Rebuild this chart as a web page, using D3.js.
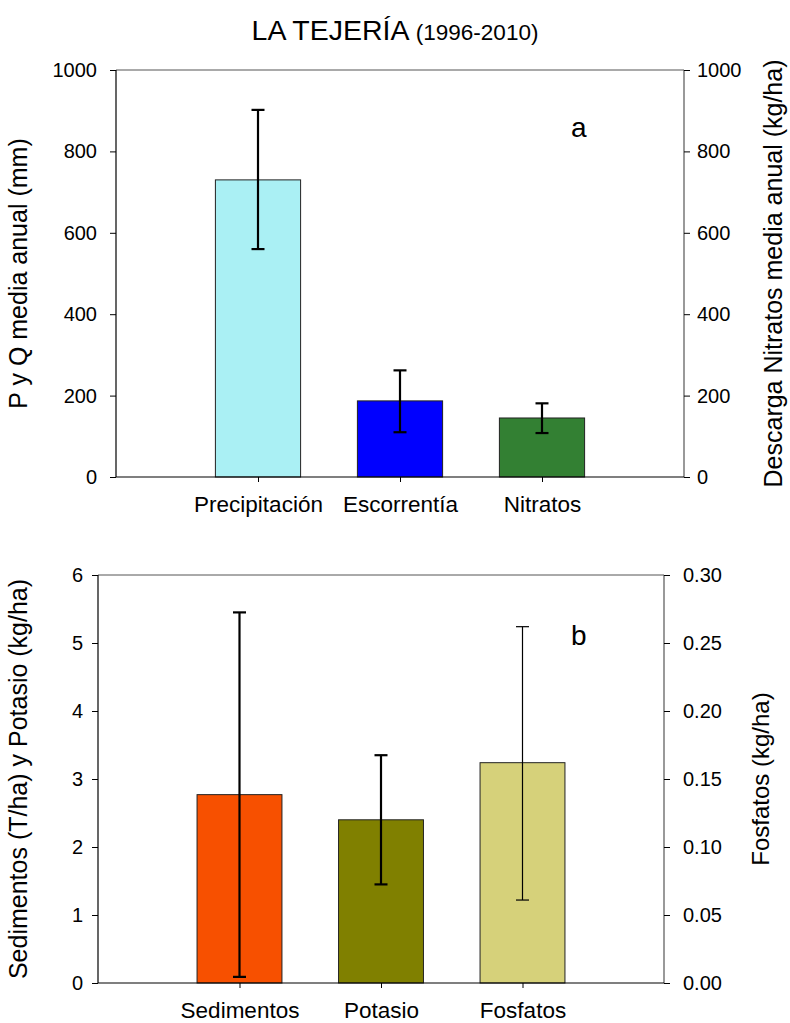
<!DOCTYPE html>
<html><head><meta charset="utf-8">
<script src="https://cdn.jsdelivr.net/npm/d3@7"></script>
<style>body{margin:0;background:#fff}svg{font-family:"Liberation Sans",Arial,sans-serif}</style>
</head><body><svg id="c" width="790" height="1023"></svg>
<script>
const catsA = ["Precipitación","Escorrentía","Nitratos"];
const valsA = [730, 187, 145];
const errHiA = [902, 262, 181];
const errLoA = [560, 110, 108];
const colorsA = ["#aaf0f4","#0000ff","#338033"];
const ticksA = [0,200,400,600,800,1000];

const catsB = ["Sedimentos","Potasio","Fosfatos"];
const valsB = [2.77, 2.40, 0.162];
const errHiB = [5.45, 3.35, 0.262];
const errLoB = [0.09, 1.45, 0.061];
const axisB = ["left","left","right"];
const colorsB = ["#f75000","#808000","#d6d17a"];
const ticksBL = [0,1,2,3,4,5,6];
const ticksBR = [0,0.05,0.10,0.15,0.20,0.25,0.30];

const svg = d3.select("#c");
const FS = 20;

svg.append("text").attr("x",395).attr("y",40).attr("text-anchor","middle")
  .attr("font-size",28.5).attr("fill","#000")
  .call(t=>{t.append("tspan").text("LA TEJERÍA ");t.append("tspan").attr("font-size",22.5).text("(1996-2010)");});

function panel(cfg){
  const g = svg.append("g");
  const x = d3.scaleLinear().domain([0,4]).range([cfg.x0,cfg.x1]);
  const yL = d3.scaleLinear().domain(cfg.domL).range([cfg.yb,cfg.yt]);
  const yR = d3.scaleLinear().domain(cfg.domR).range([cfg.yb,cfg.yt]);
  const bw = (cfg.x1-cfg.x0)/4*0.6;
  g.append("line").attr("x1",cfg.x0).attr("x2",cfg.x1).attr("y1",cfg.yt).attr("y2",cfg.yt).attr("stroke","#555").attr("stroke-width",1);
  const data = cfg.cats.map((c,i)=>({c,i,v:cfg.vals[i],hi:cfg.hi[i],lo:cfg.lo[i],col:cfg.colors[i],ax:cfg.axes[i]}));
  const ys = d=> d.ax==="right"?yR:yL;
  g.selectAll("rect.bar").data(data).join("rect")
    .attr("x",d=>x(d.i+1)-bw/2).attr("width",bw)
    .attr("y",d=>ys(d)(d.v)).attr("height",d=>cfg.yb-ys(d)(d.v))
    .attr("fill",d=>d.col).attr("stroke","#222").attr("stroke-width",1);
  const eb = g.selectAll("g.eb").data(data).join("g").attr("stroke","#000")
    .attr("stroke-width",d=>d.ax==="right"?1.2:2.2);
  eb.append("line").attr("x1",d=>x(d.i+1)).attr("x2",d=>x(d.i+1)).attr("y1",d=>ys(d)(d.hi)).attr("y2",d=>ys(d)(d.lo));
  eb.append("line").attr("x1",d=>x(d.i+1)-6.5).attr("x2",d=>x(d.i+1)+6.5).attr("y1",d=>ys(d)(d.hi)).attr("y2",d=>ys(d)(d.hi));
  eb.append("line").attr("x1",d=>x(d.i+1)-6.5).attr("x2",d=>x(d.i+1)+6.5).attr("y1",d=>ys(d)(d.lo)).attr("y2",d=>ys(d)(d.lo));
  const ax = g.append("g").attr("transform",`translate(${cfg.x0},0)`)
    .call(d3.axisLeft(yL).tickValues(cfg.ticksL).tickSize(6).tickPadding(cfg.padL).tickFormat(cfg.fmtL));
  const axr = g.append("g").attr("transform",`translate(${cfg.x1},0)`)
    .call(d3.axisRight(yR).tickValues(cfg.ticksR).tickSize(6).tickPadding(cfg.padR).tickFormat(cfg.fmtR));
  const axb = g.append("g").attr("transform",`translate(0,${cfg.yb})`)
    .call(d3.axisBottom(x).tickValues([1,2,3]).tickSize(5).tickPadding(14).tickFormat(d=>cfg.cats[d-1]));
  [ax,axr,axb].forEach(a=>{
    a.select(".domain").attr("stroke","#000").attr("stroke-width",1.2);
    a.selectAll(".tick line").attr("stroke","#000");
    a.selectAll("text").attr("font-size",FS).attr("fill","#000").attr("font-family","Liberation Sans, Arial, sans-serif");
  });
  axb.selectAll("text").attr("font-size",22.5);
  ax.select(".domain").attr("d",`M0,${cfg.yb}V${cfg.yt}`);
  axr.select(".domain").attr("d",`M0,${cfg.yb}V${cfg.yt}`).attr("stroke","#555");
  axb.select(".domain").attr("d",`M${cfg.x0},0H${cfg.x1}`);
  const ym = (cfg.yt+cfg.yb)/2;
  g.append("text").attr("transform",`translate(${cfg.lx},${ym}) rotate(-90)`).attr("text-anchor","middle")
    .attr("font-size",25).text(cfg.labL);
  g.append("text").attr("transform",`translate(${cfg.rx},${ym}) rotate(-90)`).attr("text-anchor","middle")
    .attr("font-size",cfg.rfs).text(cfg.labR);
  g.append("text").attr("x",cfg.tagx).attr("y",cfg.tagy).attr("font-size",28).text(cfg.tag);
}

panel({x0:116,x1:684,yt:70,yb:477,domL:[0,1000],domR:[0,1000],cats:catsA,vals:valsA,hi:errHiA,lo:errLoA,
  colors:colorsA,axes:["left","left","left"],ticksL:ticksA,ticksR:ticksA,fmtL:d3.format("d"),fmtR:d3.format("d"),
  padL:13,padR:7,rfs:25,
  lx:27,rx:782,labL:"P y Q media anual (mm)",labR:"Descarga Nitratos media anual (kg/ha)",tag:"a",tagx:571,tagy:137});

panel({x0:98,x1:664,yt:575,yb:983,domL:[0,6],domR:[0,0.30],cats:catsB,vals:valsB,hi:errHiB,lo:errLoB,
  colors:colorsB,axes:axisB,ticksL:ticksBL,ticksR:ticksBR,fmtL:d3.format("d"),fmtR:d3.format(".2f"),
  padL:9,padR:13,rfs:24,
  lx:27,rx:769,labL:"Sedimentos (T/ha) y Potasio (kg/ha)",labR:"Fosfatos (kg/ha)",tag:"b",tagx:571,tagy:645});
</script></body></html>
